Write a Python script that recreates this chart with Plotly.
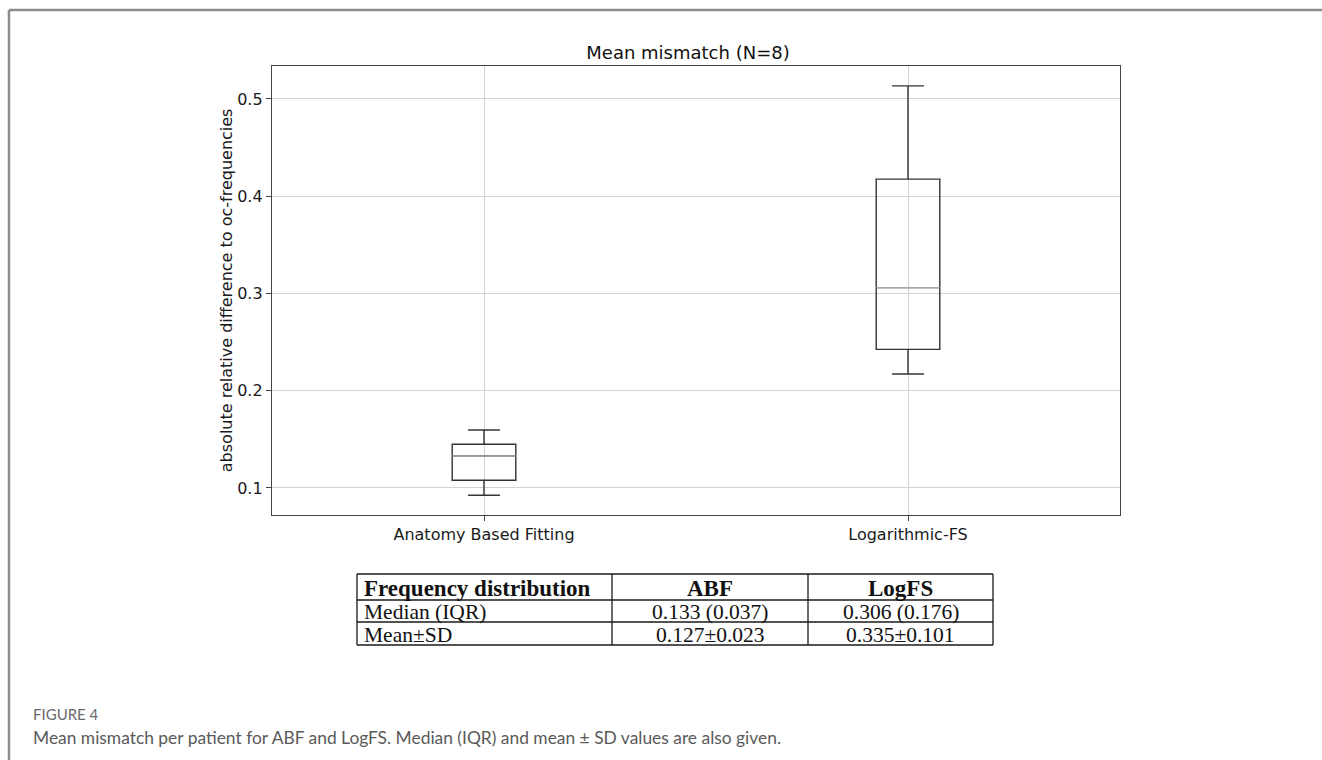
import plotly.graph_objects as go

W, H = 1322, 760

# Box statistics per fitting method
methods = ["Anatomy Based Fitting", "Logarithmic-FS"]
lower_whisker = [0.0925, 0.2172]
q1 = [0.108, 0.2425]
median = [0.133, 0.306]
q3 = [0.145, 0.4176]
upper_whisker = [0.1596, 0.5135]

# Summary table
table_header = ["<b>Frequency distribution</b>", "<b>ABF</b>", "<b>LogFS</b>"]
row_labels = ["Median (IQR)", "Mean±SD"]
abf_values = ["0.133 (0.037)", "0.127±0.023"]
logfs_values = ["0.306 (0.176)", "0.335±0.101"]

fig = go.Figure()

box_line = "#333333"
fig.add_trace(go.Box(
    x=methods, q1=q1, median=median, q3=q3,
    lowerfence=lower_whisker, upperfence=upper_whisker,
    fillcolor="rgba(255,255,255,0)",
    line=dict(color=box_line, width=1.4),
    width=0.15, whiskerwidth=0.5, boxpoints=False,
    showlegend=False, hoverinfo="skip",
))
# median lines in light grey on top of the boxes
fig.add_trace(go.Box(
    x=methods, q1=median, median=median, q3=median,
    lowerfence=median, upperfence=median,
    fillcolor="rgba(255,255,255,0)",
    line=dict(color="#a8a8a8", width=1.4),
    width=0.15, whiskerwidth=0.0001, boxpoints=False,
    showlegend=False, hoverinfo="skip",
))

# ---- summary table drawn with paper-space lines and text ----
tbl_left, tbl_right = 357, 993
col_edges = [tbl_left, 612, 808, tbl_right]
row_edges = [574, 600, 622, 645]
head_font = dict(family="Liberation Serif", size=23, color="#111111")
body_font = dict(family="Liberation Serif", size=21.5, color="#111111")
tbl_line = dict(color="#1a1a1a", width=1.3)

def px(x):
    return x / W

def py(y):
    return 1 - y / H

shapes = []
for y in row_edges:
    shapes.append(dict(type="line", xref="paper", yref="paper",
                       x0=px(tbl_left), x1=px(tbl_right), y0=py(y), y1=py(y),
                       line=tbl_line))
for x in col_edges:
    shapes.append(dict(type="line", xref="paper", yref="paper",
                       x0=px(x), x1=px(x), y0=py(row_edges[0]), y1=py(row_edges[-1]),
                       line=tbl_line))

table_rows = [table_header] + [list(r) for r in zip(row_labels, abf_values, logfs_values)]
annotations = []
for r, row in enumerate(table_rows):
    yc = (row_edges[r] + row_edges[r + 1]) / 2
    for c, txt in enumerate(row):
        if c == 0:
            xa, anchor = col_edges[0] + 5, "left"
        else:
            xa, anchor = (col_edges[c] + col_edges[c + 1]) / 2, "center"
        annotations.append(dict(text=txt, xref="paper", yref="paper",
                                x=px(xa), y=py(yc + 1), xanchor=anchor, yanchor="middle",
                                showarrow=False,
                                font=head_font if r == 0 else body_font))

# figure frame
shapes += [
    dict(type="line", xref="paper", yref="paper",
         x0=px(9), x1=1, y0=py(10), y1=py(10),
         line=dict(color="#8c8c8c", width=2.5)),
    dict(type="line", xref="paper", yref="paper",
         x0=px(9), x1=px(9), y0=py(10), y1=0,
         line=dict(color="#8c8c8c", width=2.5)),
]

annotations += [
    dict(text="FIGURE 4", xref="paper", yref="paper",
         x=px(31), y=py(714), xanchor="left", yanchor="middle",
         showarrow=False,
         font=dict(family="Lato", size=15, color="#6a6a6a")),
    dict(text="Mean mismatch per patient for ABF and LogFS. Median (IQR) and mean ± SD values are also given.",
         xref="paper", yref="paper",
         x=px(31), y=py(737), xanchor="left", yanchor="middle",
         showarrow=False,
         font=dict(family="Lato", size=17.4, color="#5a5a5a")),
]

axis_font = dict(family="DejaVu Sans", size=16, color="#1a1a1a")

fig.update_layout(
    width=W, height=H,
    margin=dict(l=0, r=0, t=0, b=0),
    paper_bgcolor="white", plot_bgcolor="white",
    boxmode="overlay",
    title=dict(
        text="Mean mismatch (N=8)",
        font=dict(family="DejaVu Sans", size=18, color="#111111"),
        xref="paper", x=px(688), xanchor="center",
        yref="container", y=py(53), yanchor="middle",
    ),
    xaxis=dict(
        domain=[px(272), px(1120)],
        type="category", range=[-0.5, 1.5],
        showgrid=True, gridcolor="#d3d3d3", gridwidth=1,
        showline=True, linecolor="#444444", linewidth=1.3, mirror=True,
        ticks="outside", ticklen=5, tickcolor="#444444",
        tickfont=axis_font,
        zeroline=False,
    ),
    yaxis=dict(
        domain=[py(515), py(65.7)],
        range=[0.0722, 0.5342],
        tick0=0.1, dtick=0.1, tickformat=".1f",
        showgrid=True, gridcolor="#d3d3d3", gridwidth=1,
        showline=True, linecolor="#444444", linewidth=1.3, mirror=True,
        ticks="outside", ticklen=5, tickcolor="#444444",
        tickfont=axis_font,
        zeroline=False,
        title=dict(
            text="absolute relative difference to oc-frequencies",
            font=dict(family="DejaVu Sans", size=16, color="#1a1a1a"),
            standoff=0,
        ),
    ),
    shapes=shapes,
    annotations=annotations,
)

fig.write_html("out.html")
